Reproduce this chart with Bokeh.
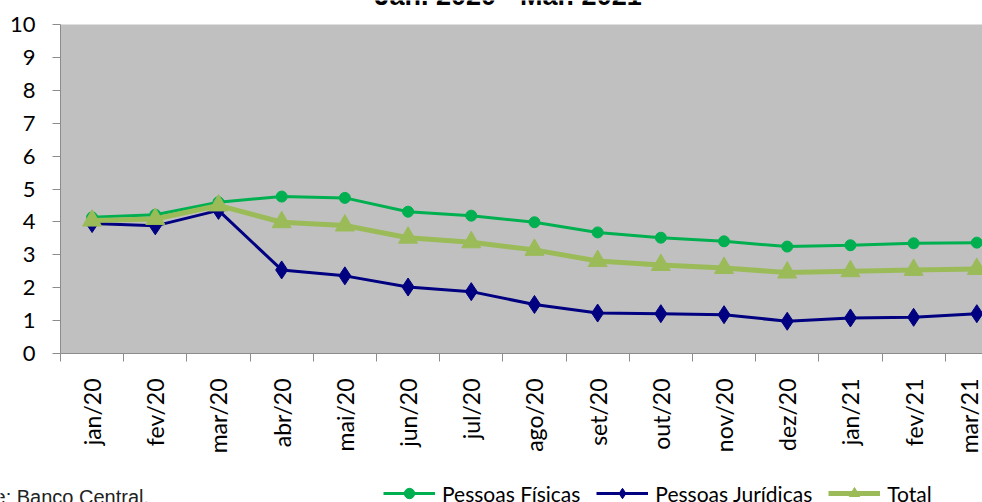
import math
from bokeh.plotting import figure
from bokeh.layouts import column, row
from bokeh.models import Range1d, FixedTicker, Legend, LegendItem, Label
from bokeh.embed import file_html
from bokeh.resources import INLINE

# ---- data ----
months = ["jan/20", "fev/20", "mar/20", "abr/20", "mai/20", "jun/20", "jul/20",
          "ago/20", "set/20", "out/20", "nov/20", "dez/20", "jan/21", "fev/21", "mar/21"]
pessoas_fisicas = [4.14, 4.22, 4.60, 4.77, 4.73, 4.31, 4.19, 3.99, 3.68, 3.52, 3.41, 3.25, 3.29, 3.35, 3.37]
pessoas_juridicas = [3.95, 3.88, 4.35, 2.54, 2.36, 2.02, 1.88, 1.49, 1.23, 1.21, 1.18, 0.98, 1.08, 1.10, 1.21]
total = [4.04, 4.09, 4.50, 3.99, 3.89, 3.52, 3.38, 3.15, 2.81, 2.69, 2.60, 2.46, 2.50, 2.54, 2.57]
y_ticks = list(range(0, 11))
title_text = "Jan. 2020 - Mar. 2021"
source_text = "Fonte: Banco Central."
series_names = ["Pessoas Físicas", "Pessoas Jurídicas", "Total"]

x = list(range(len(months)))

GREEN = "#00B050"
NAVY = "#000080"
OLIVE = "#9BBB59"
AX = "#8C8C8C"

# ---- top strip: title, cut by the top edge as in the reference ----
top = figure(width=982, height=12, output_backend="svg", toolbar_location=None,
             x_axis_location=None, y_axis_location=None,
             x_range=Range1d(0, 1), y_range=Range1d(0, 1),
             min_border=0, outline_line_color=None, border_fill_color="white",
             background_fill_color="white")
top.grid.visible = False
top.add_layout(Label(x=314, y=17, x_units="screen", y_units="screen", text=title_text,
                     text_font="Liberation Sans", text_font_size="27px", text_font_style="bold",
                     text_color="black", text_baseline="alphabetic"))

# ---- main chart ----
p = figure(width=982, height=446, output_backend="svg", toolbar_location=None,
           x_range=Range1d(-0.5, 14.09), y_range=Range1d(0, 10),
           min_border_left=60, min_border_right=0, min_border_top=12, min_border_bottom=105,
           background_fill_color="#C0C0C0", border_fill_color="white",
           outline_line_color=None)
p.xgrid.visible = False
p.ygrid.visible = False

p.yaxis.ticker = FixedTicker(ticks=y_ticks)
p.yaxis.axis_line_color = AX
p.yaxis.major_tick_line_color = AX
p.yaxis.major_tick_out = 8
p.yaxis.major_tick_in = 0
p.yaxis.minor_tick_line_color = None
p.yaxis.major_label_standoff = 17
p.yaxis.major_label_text_font = "Lato"
p.yaxis.major_label_text_font_size = "22px"
p.yaxis.major_label_text_color = "black"

p.xaxis.ticker = FixedTicker(ticks=x, minor_ticks=[i - 0.5 for i in range(len(months) + 1)])
p.xaxis.major_label_overrides = {i: m for i, m in zip(x, months)}
p.xaxis.axis_line_color = AX
p.xaxis.major_tick_line_color = None
p.xaxis.major_tick_out = 0
p.xaxis.major_tick_in = 0
p.xaxis.minor_tick_line_color = AX
p.xaxis.minor_tick_out = 8
p.xaxis.minor_tick_in = 0
p.xaxis.major_label_orientation = math.pi / 2
p.xaxis.major_label_standoff = 17
p.xaxis.major_label_text_font = "Lato"
p.xaxis.major_label_text_font_size = "23px"
p.xaxis.major_label_text_color = "black"

p.line(x, pessoas_fisicas, line_color=GREEN, line_width=3)
p.scatter(x, pessoas_fisicas, marker="circle", size=11, fill_color=GREEN, line_color=GREEN)
p.line(x, pessoas_juridicas, line_color=NAVY, line_width=3)
p.scatter(x, pessoas_juridicas, marker="diamond", size=18, fill_color=NAVY, line_color=NAVY)
p.line(x, total, line_color=OLIVE, line_width=5)
p.scatter(x, total, marker="triangle", size=19, fill_color=OLIVE, line_color=OLIVE)

# ---- bottom strip: legend and source note ----
bot = figure(width=982, height=44, output_backend="svg", toolbar_location=None,
             x_axis_location=None, y_axis_location=None,
             x_range=Range1d(0, 1), y_range=Range1d(0, 1),
             min_border=0, outline_line_color=None, border_fill_color="white",
             background_fill_color="white")
bot.grid.visible = False

# legend swatches (points placed outside the strip's range, so only the legend shows them)
off = [-5.0, -4.0]
offy = [-5.0, -5.0]
k1 = bot.line(off, offy, line_color=GREEN, line_width=3)
m1 = bot.scatter(off, offy, marker="circle", size=11, fill_color=GREEN, line_color=GREEN)
k2 = bot.line(off, offy, line_color=NAVY, line_width=3)
m2 = bot.scatter(off, offy, marker="diamond", size=18, fill_color=NAVY, line_color=NAVY)
k3 = bot.line(off, offy, line_color=OLIVE, line_width=5)
m3 = bot.scatter(off, offy, marker="triangle", size=19, fill_color=OLIVE, line_color=OLIVE)

legend = Legend(items=[LegendItem(label=series_names[0], renderers=[k1, m1]),
                       LegendItem(label=series_names[1], renderers=[k2, m2]),
                       LegendItem(label=series_names[2], renderers=[k3, m3])],
                orientation="horizontal", location=(383, -4),
                background_fill_alpha=0, border_line_color=None,
                padding=0, margin=0, spacing=16, label_standoff=7,
                glyph_width=52, glyph_height=26,
                label_text_font="Lato", label_text_font_size="21px", label_text_color="black")
bot.add_layout(legend)

bot.add_layout(Label(x=-46, y=6, x_units="screen", y_units="screen", text=source_text,
                     text_font="Liberation Sans", text_font_size="20px", text_color="#222222",
                     text_baseline="alphabetic"))

layout = column(top, p, row(bot, spacing=0), spacing=0)
open("out.html", "w").write(file_html(layout, INLINE))
